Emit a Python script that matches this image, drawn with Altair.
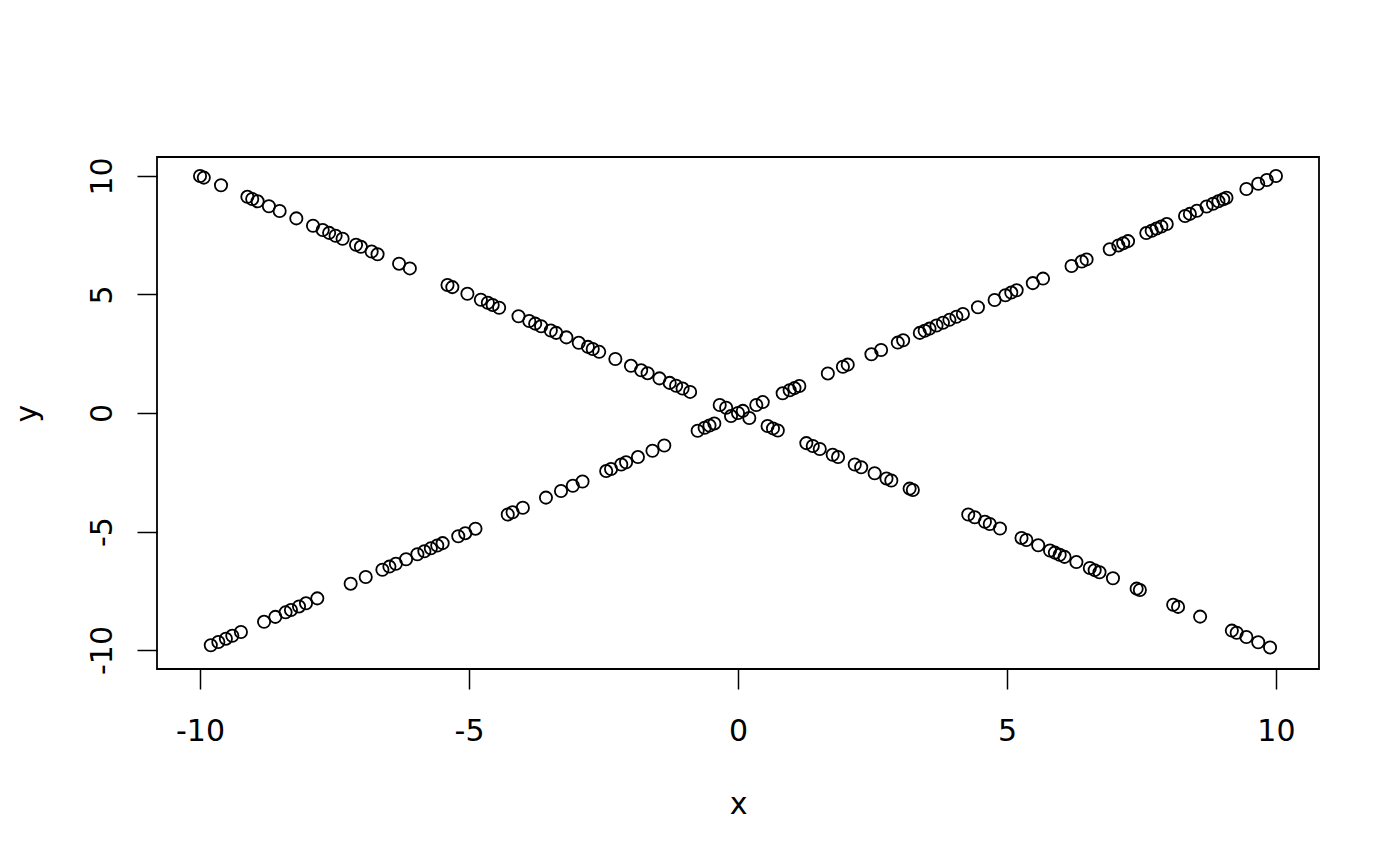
import altair as alt
import pandas as pd

# x values of points lying on y = x
up_x = [-9.80, -9.66, -9.52, -9.40, -9.24, -8.81, -8.60, -8.41, -8.31, -8.16,
        -8.03, -7.82, -7.20, -6.92, -6.61, -6.48, -6.36, -6.17, -5.96, -5.83,
        -5.71, -5.59, -5.49, -5.20, -5.07, -4.88, -4.28, -4.19, -4.00, -3.57,
        -3.29, -3.07, -2.89, -2.45, -2.36, -2.17, -2.08, -1.86, -1.59, -1.37,
        -0.75, -0.62, -0.53, -0.44, -0.13, 0.00, 0.09, 0.34, 0.46, 0.83,
        0.96, 1.05, 1.14, 1.67, 1.95, 2.04, 2.48, 2.66, 2.97, 3.07,
        3.38, 3.47, 3.56, 3.69, 3.81, 3.93, 4.06, 4.18, 4.46, 4.77,
        4.97, 5.08, 5.18, 5.48, 5.67, 6.20, 6.39, 6.48, 6.91, 7.07,
        7.16, 7.25, 7.59, 7.69, 7.78, 7.87, 7.97, 8.31, 8.40, 8.53,
        8.71, 8.83, 8.93, 9.02, 9.08, 9.45, 9.67, 9.83, 10.00]

# x values of points lying on y = -x
down_x = [-10.00, -9.93, -9.61, -9.12, -9.03, -8.93, -8.72, -8.52, -8.21, -7.90,
          -7.72, -7.60, -7.48, -7.35, -7.10, -7.01, -6.81, -6.70, -6.30, -6.10,
          -5.40, -5.31, -5.03, -4.78, -4.65, -4.56, -4.44, -4.08, -3.88, -3.77,
          -3.66, -3.48, -3.38, -3.19, -2.96, -2.79, -2.70, -2.58, -2.28, -1.99,
          -1.80, -1.68, -1.46, -1.27, -1.15, -1.03, -0.89, -0.34, -0.22, 0.21,
          0.55, 0.65, 0.74, 1.27, 1.39, 1.52, 1.76, 1.86, 2.17, 2.29,
          2.54, 2.76, 2.85, 3.19, 3.25, 4.28, 4.40, 4.59, 4.68, 4.87,
          5.27, 5.36, 5.58, 5.80, 5.89, 5.98, 6.07, 6.29, 6.54, 6.63,
          6.72, 6.97, 7.41, 7.47, 8.09, 8.18, 8.59, 9.18, 9.27, 9.45,
          9.67, 9.89]

tick_vals = [-10, -5, 0, 5, 10]

df = pd.DataFrame({
    "x": up_x + down_x,
    "y": up_x + [-v for v in down_x],
})

FONT = "DejaVu Sans"

chart = alt.Chart(df).mark_point(
    shape="circle", filled=False, color="black", opacity=1,
    size=150, strokeWidth=1.8
).encode(
    x=alt.X("x:Q", scale=alt.Scale(domain=[-10.8, 10.8], nice=False, zero=False),
            axis=alt.Axis(values=tick_vals, title="x", grid=False, domain=False,
                          tickSize=20, tickWidth=1.5, tickColor="black",
                          labelExpr="'' + datum.value",
                          labelFont=FONT, labelFontSize=30, labelColor="black",
                          labelBaseline="alphabetic", labelPadding=51,
                          labelFlush=False, labelOverlap=False,
                          titleFont=FONT, titleFontSize=30, titleFontWeight="normal",
                          titleColor="black", titleBaseline="alphabetic",
                          titleY=144, titleX=581)),
    y=alt.Y("y:Q", scale=alt.Scale(domain=[-10.8, 10.8], nice=False, zero=False),
            axis=alt.Axis(values=tick_vals, title="y", grid=False, domain=False,
                          tickSize=20, tickWidth=1.5, tickColor="black",
                          labelExpr="'' + datum.value",
                          labelFont=FONT, labelFontSize=30, labelColor="black",
                          labelAngle=270, labelAlign="center",
                          labelBaseline="alphabetic", labelPadding=26,
                          labelFlush=False, labelOverlap=False,
                          titleFont=FONT, titleFontSize=30, titleFontWeight="normal",
                          titleColor="black", titleAngle=270,
                          titleBaseline="alphabetic", titleX=-121, titleY=256)),
).properties(
    width=1162, height=512,
    background="white",
    autosize=alt.AutoSizeParams(type="none"),
    padding={"left": 149, "top": 149, "right": 73, "bottom": 189},
).configure_view(
    stroke="black", strokeWidth=1.8, fill="white"
)

chart.save("out.html", embed_options={"renderer": "svg", "actions": False})
